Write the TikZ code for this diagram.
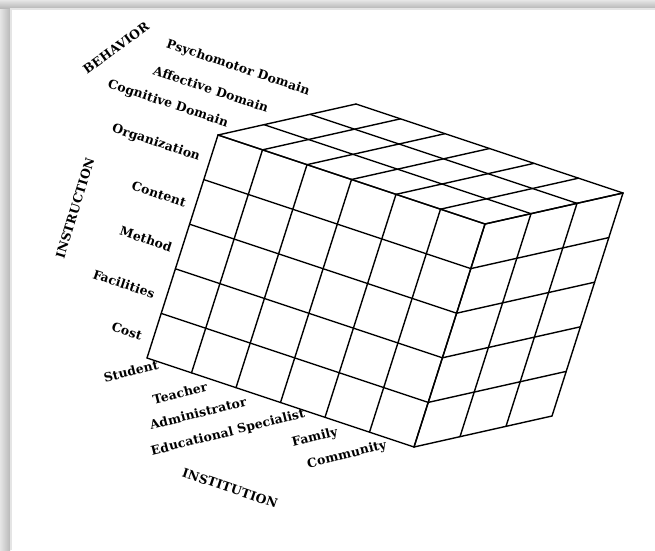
\documentclass[tikz,border=0pt]{standalone}
\usepackage{fontspec}
\setmainfont{DejaVu Serif}
\newfontfamily\lblfont{DejaVu Serif}[LetterSpace=1]
\begin{document}
\begin{tikzpicture}[x=1pt,y=-1pt,
  grid/.style={line width=1.4pt,line cap=round,line join=round},
  lbl/.style={font=\lblfont\bfseries\fontsize{12.4}{14}\selectfont,inner sep=0pt},
  ulbl/.style={lbl,rotate=-18.5},
  dlbl/.style={lbl,rotate=14}]
\useasboundingbox (0,0) rectangle (655,550);
\fill[white] (0,0) rectangle (655,550);
% frame shadow
\shade[left color=gray!20,right color=gray!55] (0,0) rectangle (10,550);
\shade[top color=gray!20,bottom color=gray!55] (0,0) rectangle (655,8);
\fill[gray!20] (10,8) rectangle (11.5,550);
\fill[gray!20] (10,8) rectangle (655,9.5);
% origin = front bottom left (147,358)
% u per column (44.5,14.833), v per row (14.2,-44.6), d per depth (46,-10.333)
% front face
\foreach \i in {0,...,6}
  \draw[grid] (147+\i*44.5,358+\i*14.833) -- (147+\i*44.5+5*14.2,358+\i*14.833-5*44.6);
\foreach \j in {0,...,5}
  \draw[grid] (147+\j*14.2,358-\j*44.6) -- (147+6*44.5+\j*14.2,358+6*14.833-\j*44.6);
% top face
\foreach \i in {0,...,6}
  \draw[grid] (147+\i*44.5+71,358+\i*14.833-223) -- (147+\i*44.5+71+138,358+\i*14.833-223-31);
\foreach \k in {0,...,3}
  \draw[grid] (147+71+\k*46,358-223-\k*10.333) -- (147+71+267+\k*46,358-223+89-\k*10.333);
% right face
\foreach \k in {0,...,3}
  \draw[grid] (147+267+\k*46,358+89-\k*10.333) -- (147+267+71+\k*46,358+89-223-\k*10.333);
\foreach \j in {0,...,5}
  \draw[grid] (147+267+\j*14.2,358+89-\j*44.6) -- (147+267+138+\j*14.2,358+89-31-\j*44.6);
% labels
\node[lbl,rotate=36] (beh) at (116,48) {BEHAVIOR};
\node[ulbl] (psy) at (238,68) {Psychomotor Domain};
\node[ulbl] (aff) at (211,89) {Affective Domain};
\node[ulbl] (cog) at (168,104) {Cognitive Domain};
\node[ulbl] (org) at (156,143) {Organization};
\node[ulbl] (con) at (159,194) {Content};
\node[ulbl] (met) at (146,239) {Method};
\node[ulbl] (fac) at (124,284) {Facilities};
\node[ulbl] (cos) at (127,331) {Cost};
\node[lbl,rotate=73] (ins) at (75,208) {INSTRUCTION};
\node[dlbl] (stu) at (131,371) {Student};
\node[dlbl] (tea) at (180,393) {Teacher};
\node[dlbl] (adm) at (198,413) {Administrator};
\node[dlbl] (edu) at (228,433) {Educational Specialist};
\node[dlbl] (fam) at (315,438) {Family};
\node[dlbl] (com) at (347,455) {Community};
\node[ulbl] (inst) at (230,488) {INSTITUTION};
\end{tikzpicture}
\end{document}
